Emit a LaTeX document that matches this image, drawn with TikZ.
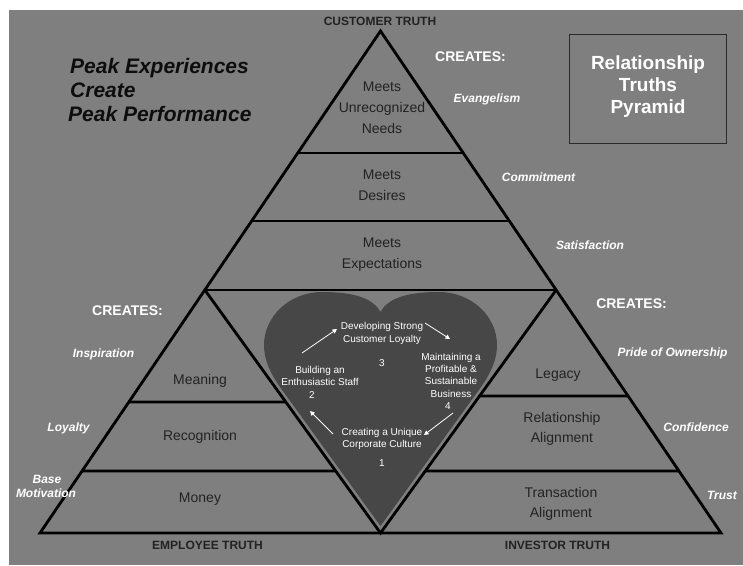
\documentclass[tikz,border=0pt]{standalone}
\usepackage{fontspec}
\setmainfont{Liberation Sans}
\usetikzlibrary{calc,arrows.meta}
\definecolor{bg}{HTML}{7F7F7F}
\definecolor{heartc}{HTML}{474747}
\definecolor{dk}{HTML}{222222}
\definecolor{boxc}{HTML}{2A2A2A}
\begin{document}
\begin{tikzpicture}[x=1pt,y=-1pt,
  pline/.style={line width=2.8pt, black, line join=miter},
  cell/.style={text=dk, font=\fontsize{14}{16}\selectfont, anchor=base, inner sep=0pt},
  wlab/.style={text=white, font=\bfseries\itshape\fontsize{12}{14}\selectfont, anchor=base, inner sep=0pt},
  creates/.style={text=white, font=\bfseries\fontsize{14}{16}\selectfont, anchor=base, inner sep=0pt},
  truth/.style={text=dk, font=\bfseries\fontsize{12}{14}\selectfont, anchor=base, inner sep=0pt},
  peak/.style={text=black!95, font=\bfseries\itshape\fontsize{21}{24}\selectfont, anchor=base west, inner sep=0pt},
  boxt/.style={text=white, font=\bfseries\fontsize{19}{22}\selectfont, anchor=base, inner sep=0pt},
  htxt/.style={text=white, font=\fontsize{10}{12}\selectfont, anchor=base, inner sep=0pt},
  harrow/.style={white, line width=0.8pt, -{Triangle[length=4.5pt,width=4.5pt]}}
]
\useasboundingbox (0,0) rectangle (743,565);
\fill[white] (0,0) rectangle (743,565);
\fill[bg] (9,10) rectangle (743,565);

% main pyramid points
\coordinate (A)  at (380.5,31);
\coordinate (BL) at (40,533);
\coordinate (BR) at (721,533);
\coordinate (BM) at (380.5,533);
\coordinate (ML) at ($(A)!{259/502}!(BL)$);
\coordinate (MR) at ($(A)!{259/502}!(BR)$);

% heart
\fill[heartc] (380.5,312) .. controls (372,296) and (348,292) .. (322,292)
  .. controls (290,292) and (264,316) .. (264,345)
  .. controls (264,366) and (277,383) .. (285.8,395)
  -- (380.5,526) -- (475.2,395)
  .. controls (484,383) and (497,366) .. (497,345)
  .. controls (497,316) and (471,292) .. (439,292)
  .. controls (413,292) and (389,296) .. (380.5,312) -- cycle;

% pyramid lines
\draw[pline] (A) -- (BL) -- (BR) -- cycle;
\draw[pline] (ML) -- (MR);
\draw[pline] (ML) -- (BM) -- (MR);
\draw[pline] ($(A)!{122/502}!(BL)$) -- ($(A)!{122/502}!(BR)$);
\draw[pline] ($(A)!{190/502}!(BL)$) -- ($(A)!{190/502}!(BR)$);
\draw[pline] ($(A)!{371/502}!(BL)$) -- ($(ML)!{112/243}!(BM)$);
\draw[pline] ($(A)!{440/502}!(BL)$) -- ($(ML)!{181/243}!(BM)$);
\draw[pline] ($(MR)!{106/243}!(BM)$) -- ($(A)!{365/502}!(BR)$);
\draw[pline] ($(MR)!{181/243}!(BM)$) -- ($(A)!{440/502}!(BR)$);

% truths
\node[truth] (ct) at (380,25) {CUSTOMER TRUTH};
\node[truth] (et) at (207.5,549) {EMPLOYEE TRUTH};
\node[truth] (it) at (557.5,549) {INVESTOR TRUTH};

% peak text
\node[peak] (pk1) at (70,73) {Peak Experiences};
\node[peak] (pk2) at (70,97) {Create};
\node[peak] (pk3) at (68,121) {Peak Performance};

% title box
\node[draw=boxc, line width=1.5pt, minimum width=157pt, minimum height=109pt, inner sep=0pt] (box) at (648,89) {};
\node[boxt] (bt1) at (648,69) {Relationship};
\node[boxt] (bt2) at (648,91) {Truths};
\node[boxt] (bt3) at (648,113) {Pyramid};

% top triangle cells
\node[cell] (c1a) at (382,91) {Meets};
\node[cell] (c1b) at (382,112) {Unrecognized};
\node[cell] (c1c) at (382,133) {Needs};
\node[cell] (c2a) at (382,179) {Meets};
\node[cell] (c2b) at (382,200) {Desires};
\node[cell] (c3a) at (382,247) {Meets};
\node[cell] (c3b) at (382,268) {Expectations};

% left cells
\node[cell] (l1) at (200,384) {Meaning};
\node[cell] (l2) at (200,440) {Recognition};
\node[cell] (l3) at (200,502) {Money};

% right cells
\node[cell] (r1) at (558,378) {Legacy};
\node[cell] (r2a) at (562,422) {Relationship};
\node[cell] (r2b) at (562,442) {Alignment};
\node[cell] (r3a) at (561,497) {Transaction};
\node[cell] (r3b) at (561,517) {Alignment};

% creates
\node[creates] (cr1) at (470.5,61) {CREATES:};
\node[creates] (cr2) at (127.5,315) {CREATES:};
\node[creates] (cr3) at (631.5,308) {CREATES:};

% white labels
\node[wlab] (w1) at (487,102) {Evangelism};
\node[wlab] (w2) at (538.5,181) {Commitment};
\node[wlab] (w3) at (590,249) {Satisfaction};
\node[wlab] (w4) at (103.5,357) {Inspiration};
\node[wlab] (w5) at (68.5,431) {Loyalty};
\node[wlab] (w6a) at (47,483) {Base};
\node[wlab] (w6b) at (46,497) {Motivation};
\node[wlab] (w7) at (672.5,356) {Pride of Ownership};
\node[wlab] (w8) at (696,431) {Confidence};
\node[wlab] (w9) at (722,499) {Trust};

% heart texts
\node[htxt] (h3a) at (382,329) {Developing Strong};
\node[htxt] (h3b) at (382,342) {Customer Loyalty};
\node[htxt] (h3n) at (382,366) {3};
\node[htxt] (h2a) at (320,373) {Building an};
\node[htxt] (h2b) at (320,385) {Enthusiastic Staff};
\node[htxt] (h2n) at (312,398) {2};
\node[htxt] (h4a) at (451,360) {Maintaining a};
\node[htxt] (h4b) at (451,372) {Profitable \&};
\node[htxt] (h4c) at (451,384) {Sustainable};
\node[htxt] (h4d) at (451,397) {Business};
\node[htxt] (h4n) at (448,409) {4};
\node[htxt] (h1a) at (382,435) {Creating a Unique};
\node[htxt] (h1b) at (382,447) {Corporate Culture};
\node[htxt] (h1n) at (382,466) {1};

% cycle arrows
\coordinate (a1s) at (302,353); \coordinate (a1e) at (337,329);
\coordinate (a2s) at (425,323); \coordinate (a2e) at (450,339);
\coordinate (a3s) at (453,413); \coordinate (a3e) at (424,435);
\coordinate (a4s) at (333,434); \coordinate (a4e) at (310,411);
\draw[harrow] (a1s) -- (a1e);
\draw[harrow] (a2s) -- (a2e);
\draw[harrow] (a3s) -- (a3e);
\draw[harrow] (a4s) -- (a4e);
\end{tikzpicture}
\end{document}
